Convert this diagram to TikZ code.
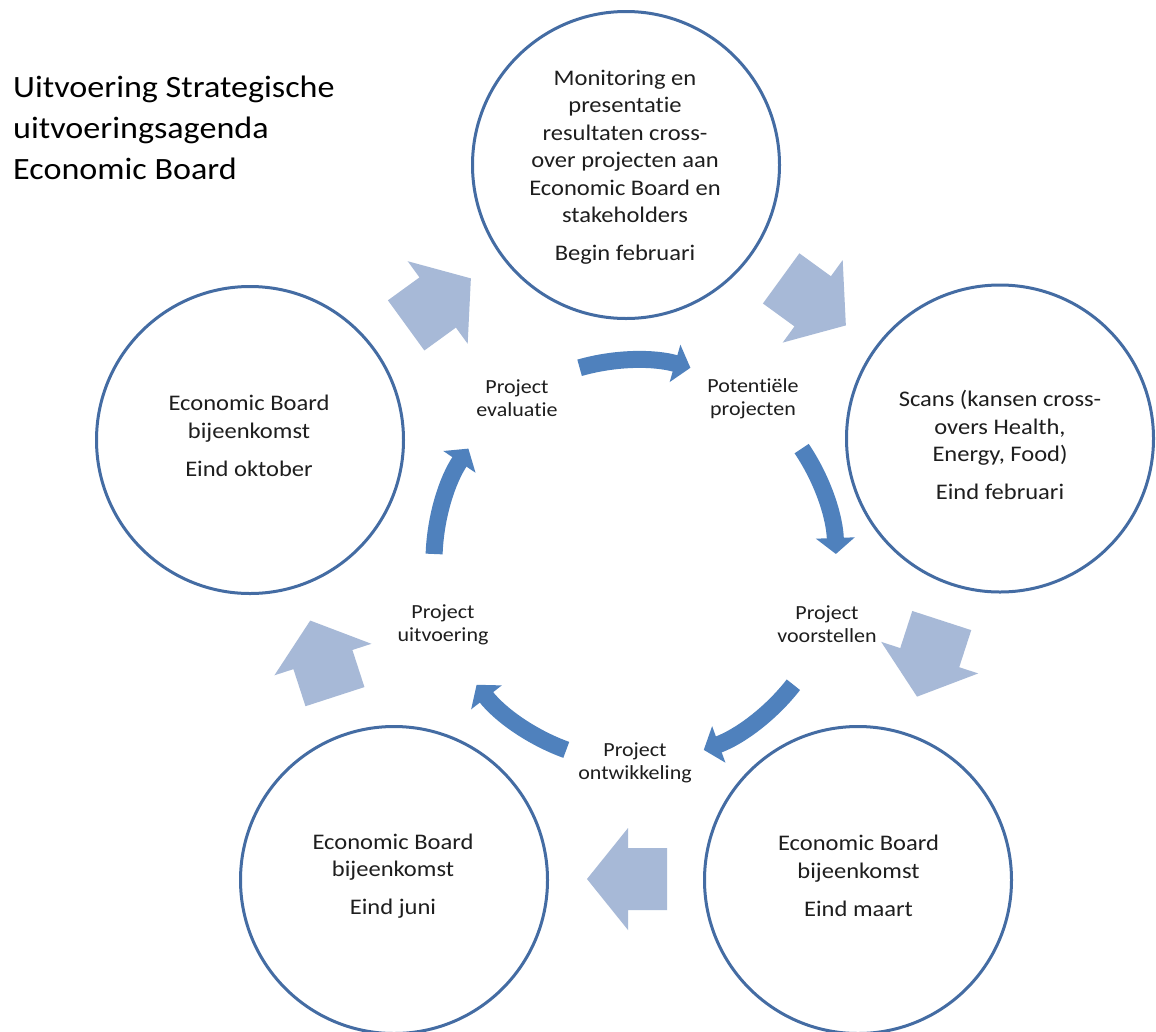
\documentclass[tikz,border=0pt]{standalone}
\usepackage{fontspec}
\setmainfont{Carlito}[FakeStretch=1.1, Ligatures={NoCommon}]
\usetikzlibrary{arrows.meta}
\definecolor{ringblue}{RGB}{68,108,163}
\definecolor{cycblue}{RGB}{79,129,189}
\definecolor{lightarr}{RGB}{167,185,215}
\definecolor{txt}{RGB}{30,30,30}
\begin{document}
\begin{tikzpicture}[x=1pt,y=-1pt,
  stage/.style={circle, draw=ringblue, line width=3pt, minimum size=307pt, inner sep=0pt},
  stagetext/.style={align=center, text=txt, font=\fontsize{22.3}{27.5}\selectfont, inner sep=0pt},
  looplabel/.style={align=center, text=txt, font=\fontsize{20}{23}\selectfont, inner sep=0pt},
  cycarrow/.style={draw=cycblue, line width=17pt, -{Triangle[width=38pt,length=16pt]}},
  bigarrow/.style={fill=lightarr}]
\useasboundingbox (0,0) rectangle (1156,1031);
\fill[white] (0,0) rectangle (1156,1031);

% title
\node[anchor=north west, align=left, inner sep=0pt, text=black,
      font=\fontsize{31}{41}\selectfont] (title) at (13,75.5)
  {Uitvoering Strategische\\uitvoeringsagenda\\Economic Board};

% large light arrows between the stages
\fill[bigarrow, shift={(438.5,301.9)}, rotate=36]
  (-40,-31) -- (-1,-31) -- (-1,-51) -- (40,0) -- (-1,51) -- (-1,31) -- (-40,31) -- cycle;
\fill[bigarrow, shift={(813.5,301.9)}, rotate=-36]
  (-40,-31) -- (-1,-31) -- (-1,-51) -- (40,0) -- (-1,51) -- (-1,31) -- (-40,31) -- cycle;
\fill[bigarrow, shift={(929.4,658.6)}, rotate=-108]
  (-40,-31) -- (-1,-31) -- (-1,-51) -- (40,0) -- (-1,51) -- (-1,31) -- (-40,31) -- cycle;
\fill[bigarrow, shift={(627,879)}, rotate=180]
  (-40,-31) -- (-1,-31) -- (-1,-51) -- (40,0) -- (-1,51) -- (-1,31) -- (-40,31) -- cycle;
\fill[bigarrow, shift={(322.6,658.6)}, rotate=108]
  (-40,-31) -- (-1,-31) -- (-1,-51) -- (40,0) -- (-1,51) -- (-1,31) -- (-40,31) -- cycle;

% stage circles
\node[stage] (top) at (626,165) {};
\node[stage] (right) at (1000,438.5) {};
\node[stage] (bright) at (858,880) {};
\node[stage] (bleft) at (394,880) {};
\node[stage] (left) at (250,440) {};

\node[stagetext] (ttop) at (625,167)
  {Monitoring en\\presentatie\\resultaten cross-\\over projecten aan\\Economic Board en\\stakeholders\\[10.5pt]Begin februari};
\node[stagetext] (tright) at (1000,445)
  {Scans (kansen cross-\\overs Health,\\Energy, Food)\\[10.5pt]Eind februari};
\node[stagetext] (tbright) at (858.5,876)
  {Economic Board\\bijeenkomst\\[10.5pt]Eind maart};
\node[stagetext] (tbleft) at (393,876)
  {Economic Board\\bijeenkomst\\[10.5pt]Eind juni};
\node[stagetext] (tleft) at (249,436)
  {Economic Board\\bijeenkomst\\[10.5pt]Eind oktober};

% inner cycle
\coordinate (cyc) at (635,561);
\node[looplabel] (leval) at (517,398.5) {Project\\evaluatie};
\node[looplabel] (lpot) at (753,398.5) {Potentiële\\projecten};
\node[looplabel] (lvoor) at (827,624.5) {Project\\voorstellen};
\node[looplabel] (lontw) at (635,763) {Project\\ontwikkeling};
\node[looplabel] (luitv) at (443,624.5) {Project\\uitvoering};

\draw[cycarrow] ([shift={(-106:201)}]cyc) arc[start angle=-106, end angle=-74, radius=201];
\draw[cycarrow] ([shift={(-34:201)}]cyc) arc[start angle=-34, end angle=-2, radius=201];
\draw[cycarrow] ([shift={(38:201)}]cyc) arc[start angle=38, end angle=70, radius=201];
\draw[cycarrow] ([shift={(110:201)}]cyc) arc[start angle=110, end angle=142, radius=201];
\draw[cycarrow] ([shift={(182:201)}]cyc) arc[start angle=182, end angle=214, radius=201];
\end{tikzpicture}
\end{document}
